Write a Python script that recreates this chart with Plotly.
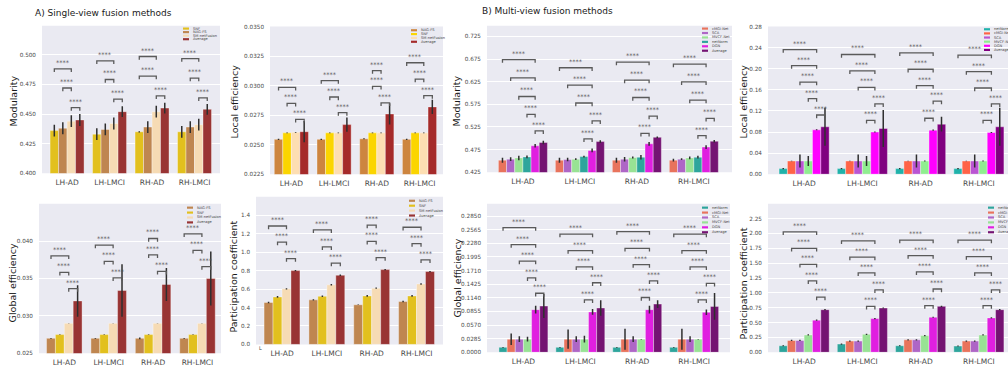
import plotly.graph_objects as go

W, H = 1008, 373
FONT = "DejaVu Sans"

CATEGORIES = ["LH-AD", "LH-LMCI", "RH-AD", "RH-LMCI"]

# ---------------- A) single-view fusion methods ----------------
A_MOD_METHODS = ["SNF", "NAG-FS", "SM-netFusion", "Average"]
A_MOD_VALUES = [
    [0.436, 0.433, 0.435, 0.435],
    [0.438, 0.437, 0.439, 0.439],
    [0.444, 0.442, 0.452, 0.441],
    [0.445, 0.452, 0.455, 0.454],
]
A_MOD_ERRORS = [
    [0.005, 0.005, 0.0005, 0.005],
    [0.005, 0.005, 0.005, 0.005],
    [0.005, 0.005, 0.005, 0.005],
    [0.005, 0.0045, 0.0045, 0.0045],
]

A_LE_METHODS = ["NAG-FS", "SNF", "SM-netFusion", "Average"]
A_LE_VALUES = [
    [0.02545, 0.02545, 0.0255, 0.02545],
    [0.0260, 0.0260, 0.0260, 0.0260],
    [0.02605, 0.0260, 0.0260, 0.0260],
    [0.0261, 0.0267, 0.0276, 0.0282],
]
A_LE_ERRORS = [
    [0.00005, 0.00005, 0.00005, 0.00005],
    [0.00003, 0.00003, 0.00003, 0.00003],
    [0.00003, 0.00003, 0.00003, 0.00003],
    [0.0009, 0.0006, 0.0009, 0.0006],
]

A_GE_METHODS = ["NAG-FS", "SNF", "SM-netFusion", "Average"]
A_GE_VALUES = [
    [0.0270, 0.0270, 0.0270, 0.0270],
    [0.0275, 0.0275, 0.0275, 0.0275],
    [0.0290, 0.0290, 0.0290, 0.0290],
    [0.0320, 0.0334, 0.0342, 0.0350],
]
A_GE_ERRORS = [
    [0.00005, 0.00005, 0.00012, 0.00005],
    [0.00003, 0.00003, 0.00003, 0.00003],
    [0.00003, 0.00003, 0.00003, 0.00003],
    [0.0021, 0.0035, 0.0022, 0.0036],
]

A_PC_METHODS = ["NAG-FS", "SNF", "SM-netFusion", "Average"]
A_PC_VALUES = [
    [0.455, 0.483, 0.430, 0.466],
    [0.515, 0.522, 0.526, 0.526],
    [0.603, 0.646, 0.610, 0.656],
    [0.800, 0.750, 0.811, 0.790],
]
A_PC_ERRORS = [
    [0.008, 0.008, 0.002, 0.008],
    [0.009, 0.009, 0.009, 0.009],
    [0.007, 0.008, 0.007, 0.008],
    [0.007, 0.007, 0.007, 0.007],
]

# ---------------- B) multi-view fusion methods ----------------
B_MOD_METHODS = ["cMGI-Net", "SCA", "MVCF-Net", "netNorm", "DGN", "Average"]
B_MOD_VALUES = [
    [0.4517, 0.4517, 0.4517, 0.4517],
    [0.4539, 0.4531, 0.4539, 0.4539],
    [0.4567, 0.4539, 0.4575, 0.4567],
    [0.4589, 0.4596, 0.4582, 0.4582],
    [0.4834, 0.4733, 0.4878, 0.4806],
    [0.4907, 0.4928, 0.5022, 0.4935],
]
B_MOD_ERRORS = [
    [0.0055, 0.0055, 0.0055, 0.003],
    [0.004, 0.004, 0.005, 0.002],
    [0.005, 0.002, 0.002, 0.003],
    [0.003, 0.002, 0.005, 0.003],
    [0.004, 0.004, 0.004, 0.004],
    [0.004, 0.003, 0.002, 0.003],
]

B_LE_METHODS = ["netNorm", "cMGI-Net", "SCA", "MVCF-Net", "DGN", "Average"]
B_LE_VALUES = [
    [0.0106, 0.0106, 0.0106, 0.0106],
    [0.0250, 0.0250, 0.0250, 0.0250],
    [0.0250, 0.0250, 0.0250, 0.0250],
    [0.0250, 0.0250, 0.0250, 0.0250],
    [0.0842, 0.0799, 0.0836, 0.0792],
    [0.0899, 0.0867, 0.0948, 0.0899],
]
B_LE_ERRORS = [
    [0.001, 0.001, 0.001, 0.001],
    [0.0005, 0.0005, 0.0005, 0.0005],
    [0.0125, 0.0125, 0.0125, 0.0125],
    [0.0095, 0.0095, 0.001, 0.001],
    [0.001, 0.001, 0.001, 0.001],
    [0.036, 0.035, 0.014, 0.036],
]

B_GE_METHODS = ["netNorm", "cMGI-Net", "SCA", "MVCF-Net", "DGN", "Average"]
B_GE_VALUES = [
    [0.0103, 0.0103, 0.0103, 0.0103],
    [0.0275, 0.0275, 0.0275, 0.0275],
    [0.0275, 0.0275, 0.0275, 0.0275],
    [0.0275, 0.0275, 0.0275, 0.0275],
    [0.0893, 0.0845, 0.0893, 0.0838],
    [0.0968, 0.0927, 0.1009, 0.0961],
]
B_GE_ERRORS = [
    [0.001, 0.001, 0.001, 0.001],
    [0.012, 0.020, 0.022, 0.022],
    [0.006, 0.006, 0.006, 0.006],
    [0.005, 0.007, 0.0005, 0.0005],
    [0.008, 0.006, 0.008, 0.006],
    [0.025, 0.016, 0.008, 0.028],
]

B_PC_METHODS = ["netNorm", "cMGI-Net", "SCA", "MVCF-Net", "DGN", "Average"]
B_PC_VALUES = [
    [0.110, 0.138, 0.110, 0.105],
    [0.199, 0.188, 0.210, 0.188],
    [0.199, 0.188, 0.210, 0.188],
    [0.292, 0.303, 0.281, 0.292],
    [0.541, 0.568, 0.590, 0.579],
    [0.717, 0.745, 0.773, 0.717],
]
B_PC_ERRORS = [
    [0.008, 0.010, 0.008, 0.008],
    [0.010, 0.010, 0.010, 0.010],
    [0.010, 0.010, 0.010, 0.010],
    [0.010, 0.010, 0.010, 0.010],
    [0.010, 0.010, 0.010, 0.010],
    [0.010, 0.010, 0.010, 0.010],
]

# significance brackets: (group, first bar, second bar, bracket level)
A_MOD_BRACKETS = [
    (0, 0, 2, 0.4881), (0, 1, 2, 0.4720), (0, 2, 3, 0.4554),
    (1, 0, 2, 0.4950), (1, 1, 2, 0.4792), (1, 2, 3, 0.4626),
    (2, 0, 2, 0.4986), (2, 0, 2, 0.4820), (2, 2, 3, 0.4654),
    (3, 0, 2, 0.4969), (3, 1, 2, 0.4803), (3, 2, 3, 0.4637),
]
A_LE_BRACKETS = [
    (0, 0, 2, 0.02985), (0, 1, 2, 0.02849), (0, 2, 3, 0.02715),
    (1, 0, 2, 0.03043), (1, 1, 2, 0.02904), (1, 2, 3, 0.02771),
    (2, 1, 2, 0.03127), (2, 1, 2, 0.02993), (2, 2, 3, 0.02854),
    (3, 0, 2, 0.03194), (3, 1, 2, 0.03055), (3, 2, 3, 0.02915),
]
A_GE_BRACKETS = [
    (0, 0, 2, 0.03803), (0, 1, 2, 0.03583), (0, 2, 3, 0.03364),
    (1, 0, 2, 0.03947), (1, 1, 2, 0.03728), (1, 2, 3, 0.03509),
    (2, 1, 2, 0.04035), (2, 1, 2, 0.03816), (2, 2, 3, 0.03596),
    (3, 0, 2, 0.04096), (3, 1, 2, 0.03877), (3, 2, 3, 0.03658),
]
A_PC_BRACKETS = [
    (0, 0, 2, 1.284), (0, 1, 2, 1.108), (0, 2, 3, 0.931),
    (1, 0, 2, 1.242), (1, 1, 2, 1.058), (1, 2, 3, 0.882),
    (2, 1, 2, 1.294), (2, 1, 2, 1.118), (2, 2, 3, 0.942),
    (3, 0, 2, 1.270), (3, 1, 2, 1.093), (3, 2, 3, 0.917),
]
B_MOD_BRACKETS = [
    (0, 0, 4, 0.6739), (0, 1, 4, 0.6335), (0, 2, 4, 0.5924), (0, 3, 4, 0.5527), (0, 4, 5, 0.5166),
    (1, 0, 4, 0.6559), (1, 1, 4, 0.6176), (1, 2, 4, 0.5780), (1, 4, 5, 0.5383), (1, 3, 4, 0.4986),
    (2, 0, 4, 0.6682), (2, 1, 4, 0.6285), (2, 2, 4, 0.5902), (2, 4, 5, 0.5491), (2, 3, 4, 0.5109),
    (3, 0, 4, 0.6638), (3, 1, 4, 0.6249), (3, 2, 4, 0.5845), (3, 4, 5, 0.5441), (3, 3, 4, 0.5058),
]
B_LE_BRACKETS = [
    (0, 0, 4, 0.2365), (0, 1, 4, 0.2059), (0, 2, 4, 0.1747), (0, 3, 4, 0.1435), (0, 4, 5, 0.1123),
    (1, 0, 4, 0.2271), (1, 1, 4, 0.1959), (1, 2, 4, 0.1647), (1, 4, 5, 0.1335), (1, 3, 4, 0.1023),
    (2, 0, 4, 0.2303), (2, 1, 4, 0.1991), (2, 2, 4, 0.1679), (2, 4, 5, 0.1385), (2, 3, 4, 0.1061),
    (3, 0, 4, 0.2259), (3, 1, 4, 0.1947), (3, 2, 4, 0.1635), (3, 4, 5, 0.1335), (3, 3, 4, 0.1023),
]
B_GE_BRACKETS = [
    (0, 0, 4, 0.2610), (0, 1, 4, 0.2252), (0, 2, 4, 0.1909), (0, 3, 4, 0.1559), (0, 4, 5, 0.1236),
    (1, 0, 4, 0.2472), (1, 1, 4, 0.2129), (1, 2, 4, 0.1786), (1, 4, 5, 0.1456), (1, 3, 4, 0.1099),
    (2, 0, 4, 0.2527), (2, 1, 4, 0.2177), (2, 2, 4, 0.1834), (2, 4, 5, 0.1497), (2, 3, 4, 0.1147),
    (3, 0, 4, 0.2472), (3, 1, 4, 0.2129), (3, 2, 4, 0.1786), (3, 4, 5, 0.1442), (3, 3, 4, 0.1099),
]
B_PC_BRACKETS = [
    (0, 0, 4, 2.025), (0, 1, 4, 1.749), (0, 2, 4, 1.479), (0, 3, 4, 1.203), (0, 4, 5, 0.927),
    (1, 0, 4, 1.876), (1, 1, 4, 1.600), (1, 2, 4, 1.336), (1, 4, 5, 1.049), (1, 3, 4, 0.773),
    (2, 0, 4, 1.887), (2, 1, 4, 1.628), (2, 2, 4, 1.352), (2, 4, 5, 1.065), (2, 3, 4, 0.784),
    (3, 0, 4, 1.887), (3, 1, 4, 1.611), (3, 2, 4, 1.336), (3, 4, 5, 1.049), (3, 3, 4, 0.784),
]

# method colours (muted seaborn-like tones)
A_COLORS = {"SNF": "#e2c01e", "NAG-FS": "#bf8650", "SM-netFusion": "#f6dbb4", "Average": "#993434"}
A_COLORS_BRIGHT = {"SNF": "#fbd500", "NAG-FS": "#cd853f", "SM-netFusion": "#fddeb2", "Average": "#a52a2a"}
B_COLORS = {"cMGI-Net": "#e8735c", "SCA": "#ae66c6", "MVCF-Net": "#98e294", "netNorm": "#2ea59c",
            "DGN": "#e01fe0", "Average": "#741372"}
B_COLORS_BRIGHT = {"cMGI-Net": "#ff6347", "SCA": "#ba55d3", "MVCF-Net": "#90ee90", "netNorm": "#20b2aa",
                   "DGN": "#ff00ff", "Average": "#800080"}

BG = "#eaeaf2"
TICK_COLOR = "#4a4a4a"
BRACKET_COLOR = "#5a5a5a"


def frange(start, step, n):
    return [round(start + k * step, 6) for k in range(n)]


PANELS = [
    dict(methods=A_MOD_METHODS, values=A_MOD_VALUES, errors=A_MOD_ERRORS, colors=A_COLORS,
         brackets=A_MOD_BRACKETS, px=(42, 220, 23, 173), xr=(-0.59, 3.60), yr=(0.400, 0.5247),
         ticks=frange(0.400, 0.025, 5), fmt=".3f", ylabel="Modularity", lab=(13, 100),
         leg=(183, 26, 3.6), gw=0.8),
    dict(methods=A_LE_METHODS, values=A_LE_VALUES, errors=A_LE_ERRORS, colors=A_COLORS_BRIGHT,
         brackets=A_LE_BRACKETS, px=(270, 443, 24, 174), xr=(-0.50, 3.55), yr=(0.0225, 0.0350),
         ticks=frange(0.0225, 0.0025, 6), fmt=".4f", ylabel="Local efficiency", lab=(234, 100),
         leg=(411, 27.7, 3.9), gw=0.8),
    dict(methods=B_MOD_METHODS, values=B_MOD_VALUES, errors=B_MOD_ERRORS, colors=B_COLORS,
         brackets=B_MOD_BRACKETS, px=(487, 732, 23, 172), xr=(-0.63, 3.67), yr=(0.425, 0.749),
         ticks=frange(0.425, 0.05, 7), fmt=".3f", ylabel="Modularity", lab=(456, 100),
         leg=(702, 26, 4.5), gw=0.86),
    dict(methods=B_LE_METHODS, values=B_LE_VALUES, errors=B_LE_ERRORS, colors=B_COLORS_BRIGHT,
         brackets=B_LE_BRACKETS, px=(768, 1008, 24, 174), xr=(-0.62, 3.50), yr=(0.0, 0.28),
         ticks=frange(0.0, 0.04, 8), fmt=".2f", ylabel="Local efficiency", lab=(743, 100),
         leg=(984, 26.7, 4.2), gw=0.86),
    dict(methods=A_GE_METHODS, values=A_GE_VALUES, errors=A_GE_ERRORS, colors=A_COLORS,
         brackets=A_GE_BRACKETS, px=(39, 221, 204, 356), xr=(-0.57, 3.53), yr=(0.025, 0.045),
         ticks=frange(0.025, 0.005, 4), fmt=".3f", ylabel="Global efficiency", lab=(12, 285),
         leg=(187, 208, 5.0), gw=0.8),
    dict(methods=A_PC_METHODS, values=A_PC_VALUES, errors=A_PC_ERRORS, colors=A_COLORS,
         brackets=A_PC_BRACKETS, px=(256, 443, 197, 347), xr=(-0.58, 3.59), yr=(0.0, 1.6),
         ticks=frange(0.0, 0.2, 8), fmt=".1f", ylabel="Participation coefficient", lab=(234, 278),
         leg=(409, 201, 5.0), gw=0.8),
    dict(methods=B_GE_METHODS, values=B_GE_VALUES, errors=B_GE_ERRORS, colors=B_COLORS,
         brackets=B_GE_BRACKETS, px=(487, 730, 204, 355), xr=(-0.64, 3.63), yr=(0.0, 0.311),
         ticks=frange(0.0, 0.0285, 11), fmt=".4f", ylabel="Global efficiency", lab=(457, 280),
         leg=(702, 208, 5.0), gw=0.86),
    dict(methods=B_PC_METHODS, values=B_PC_VALUES, errors=B_PC_ERRORS, colors=B_COLORS,
         brackets=B_PC_BRACKETS, px=(768, 1008, 204, 355), xr=(-0.62, 3.50), yr=(0.0, 2.5),
         ticks=frange(0.0, 0.25, 10), fmt=".2f", ylabel="Participation coefficient", lab=(743, 285),
         leg=(988, 208, 5.0), gw=0.86),
]

fig = go.Figure()
shapes = []
annotations = []
layout_axes = {}

for idx, p in enumerate(PANELS, start=1):
    xname = "x" if idx == 1 else f"x{idx}"
    yname = "y" if idx == 1 else f"y{idx}"
    x0, x1, y0, y1 = p["px"]
    n = len(p["methods"])
    bw = p["gw"] / n

    def bar_x(g, j, n=n, bw=bw):
        return g + (j - (n - 1) / 2) * bw

    for j, m in enumerate(p["methods"]):
        fig.add_trace(go.Bar(
            x=[bar_x(g, j) for g in range(len(CATEGORIES))],
            y=p["values"][j],
            width=bw,
            name=m,
            showlegend=False,
            marker=dict(color=p["colors"][m], line=dict(color="rgba(255,255,255,0.6)", width=0.6)),
            error_y=dict(type="data", array=p["errors"][j], color="#2f2f2f", thickness=1.5, width=0),
            xaxis=xname, yaxis=yname,
            hovertemplate=f"{m}<br>%{{y}}<extra></extra>",
        ))

    # significance brackets with star labels
    tick = 3.2 / (y1 - y0) * (p["yr"][1] - p["yr"][0])
    for g, a, b, lev in p["brackets"]:
        xa, xb = bar_x(g, a), bar_x(g, b)
        shapes.append(dict(
            type="path", xref=xname, yref=yname,
            path=f"M {xa},{lev - tick} L {xa},{lev} L {xb},{lev} L {xb},{lev - tick}",
            line=dict(color=BRACKET_COLOR, width=1.3),
        ))
        annotations.append(dict(
            x=(xa + xb) / 2, y=lev, xref=xname, yref=yname, text="****",
            showarrow=False, yanchor="bottom", yshift=0,
            font=dict(family=FONT, size=6.5, color="#505050"),
        ))

    # compact legend drawn inside the axes
    lx, ly, ldy = p["leg"]
    for j, m in enumerate(p["methods"]):
        yy = ly + j * ldy
        shapes.append(dict(
            type="rect", xref="paper", yref="paper",
            x0=lx / W, x1=(lx + 6) / W, y0=1 - (yy + 1.1) / H, y1=1 - (yy - 1.1) / H,
            fillcolor=p["colors"][m], line=dict(width=0),
        ))
        annotations.append(dict(
            x=(lx + 8) / W, y=1 - yy / H, xref="paper", yref="paper", text=m,
            showarrow=False, xanchor="left", yanchor="middle",
            font=dict(family=FONT, size=3.6, color="#444444"),
        ))

    # y-axis label
    annotations.append(dict(
        x=p["lab"][0] / W, y=1 - p["lab"][1] / H, xref="paper", yref="paper",
        text=p["ylabel"], textangle=-90, showarrow=False,
        xanchor="center", yanchor="middle",
        font=dict(family=FONT, size=9.5, color="#1a1a1a"),
    ))

    xkey = "xaxis" if idx == 1 else f"xaxis{idx}"
    ykey = "yaxis" if idx == 1 else f"yaxis{idx}"
    layout_axes[xkey] = dict(
        domain=[x0 / W, x1 / W], anchor=yname, range=list(p["xr"]),
        tickmode="array", tickvals=list(range(len(CATEGORIES))), ticktext=CATEGORIES,
        showgrid=False, zeroline=False, showline=False, ticks="",
        tickfont=dict(family=FONT, size=7.5, color=TICK_COLOR), ticklabelstandoff=3,
    )
    layout_axes[ykey] = dict(
        domain=[1 - y1 / H, 1 - y0 / H], anchor=xname, range=list(p["yr"]),
        tickmode="array", tickvals=p["ticks"], tickformat=p["fmt"],
        showgrid=True, gridcolor="white", gridwidth=1, zeroline=False, showline=False, ticks="",
        tickfont=dict(family=FONT, size=5.7, color=TICK_COLOR), ticklabelstandoff=5,
    )
    # plot area background
    shapes.insert(0, dict(
        type="rect", xref="paper", yref="paper", layer="below",
        x0=x0 / W, x1=x1 / W, y0=1 - y1 / H, y1=1 - y0 / H,
        fillcolor=BG, line=dict(width=0),
    ))

# panel titles
annotations.append(dict(x=33 / W, y=1 - 10 / H, xref="paper", yref="paper",
                        text="A) Single-view fusion methods", showarrow=False,
                        xanchor="left", yanchor="middle",
                        font=dict(family=FONT, size=9, color="#1a1a1a")))
annotations.append(dict(x=480 / W, y=1 - 8 / H, xref="paper", yref="paper",
                        text="B) Multi-view fusion methods", showarrow=False,
                        xanchor="left", yanchor="middle",
                        font=dict(family=FONT, size=9, color="#1a1a1a")))
# small stray tick glyph beside the first category label
annotations.append(dict(x=260 / W, y=1 - 351 / H, xref="paper", yref="paper",
                        text="L", showarrow=False, xanchor="center", yanchor="middle",
                        font=dict(family=FONT, size=5, color=TICK_COLOR)))

fig.update_layout(
    width=W, height=H,
    margin=dict(l=0, r=0, t=0, b=0),
    paper_bgcolor="white",
    plot_bgcolor="rgba(0,0,0,0)",
    barmode="overlay",
    showlegend=False,
    shapes=shapes,
    annotations=annotations,
    font=dict(family=FONT),
    **layout_axes,
)

fig.write_html("out.html")
